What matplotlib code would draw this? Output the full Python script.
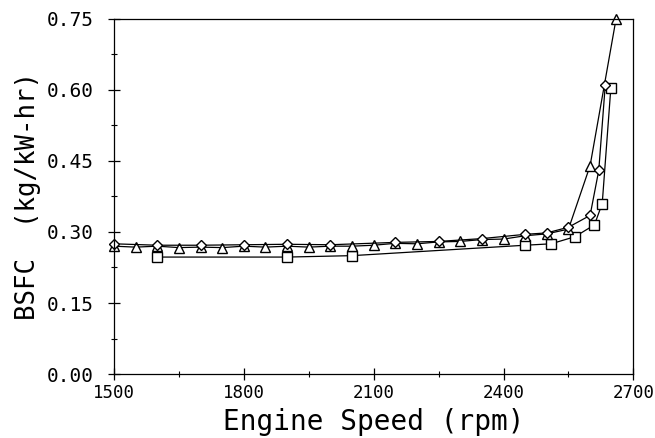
import numpy as np
import matplotlib
matplotlib.use("Agg")
import matplotlib.pyplot as plt
from matplotlib.ticker import MultipleLocator

# engine speed (rpm) and BSFC (kg/kW-hr)
tri_rpm = [1500, 1550, 1600, 1650, 1700, 1750, 1800, 1850, 1900, 1950, 2000, 2050,
           2100, 2150, 2200, 2250, 2300, 2350, 2400, 2450, 2500, 2550, 2600, 2660]
tri_bsfc = [0.270, 0.268, 0.270, 0.267, 0.268, 0.267, 0.270, 0.268, 0.270, 0.268, 0.270, 0.270,
            0.272, 0.276, 0.275, 0.279, 0.280, 0.284, 0.285, 0.292, 0.296, 0.306, 0.440, 0.750]

dia_rpm = [1500, 1600, 1700, 1800, 1900, 2000, 2150, 2250, 2350, 2450, 2500, 2550, 2600, 2620, 2635]
dia_bsfc = [0.275, 0.272, 0.272, 0.273, 0.274, 0.273, 0.278, 0.280, 0.286, 0.295, 0.298, 0.310,
            0.335, 0.430, 0.610]

sq_rpm = [1600, 1900, 2050, 2450, 2510, 2565, 2610, 2628, 2648]
sq_bsfc = [0.247, 0.247, 0.250, 0.272, 0.275, 0.290, 0.315, 0.360, 0.605]

xticks = [1500, 1800, 2100, 2400, 2700]
yticks = [0.00, 0.15, 0.30, 0.45, 0.60, 0.75]

plt.rcParams['font.family'] = ['DejaVu Sans Mono']

fig = plt.figure(figsize=(6.55, 4.38), dpi=100)
ax = fig.add_axes([0.174, 0.146, 0.793, 0.811])

style = dict(color='black', lw=0.9, mfc='white', mec='black', mew=1.0, clip_on=False)
ax.plot(sq_rpm, sq_bsfc, marker='s', ms=7.5, **style)
ax.plot(tri_rpm, tri_bsfc, marker='^', ms=7, **style)
ax.plot(dia_rpm, dia_bsfc, marker='D', ms=5.5, **style)

ax.set_xlim(1500, 2700)
ax.set_ylim(0, 0.75)
ax.set_xticks(xticks)
ax.set_yticks(yticks)
ax.set_yticklabels([f"{v:.2f}" for v in yticks])
ax.xaxis.set_minor_locator(MultipleLocator(150))
ax.yaxis.set_minor_locator(MultipleLocator(0.075))
ax.tick_params(which='major', direction='inout', length=9, width=0.9)
ax.tick_params(axis='y', which='major', pad=10, labelsize=14)
ax.tick_params(axis='x', which='major', pad=3, labelsize=12.5)
ax.tick_params(which='minor', direction='inout', length=5, width=0.8)
for s in ax.spines.values():
    s.set_linewidth(0.9)

ax.set_xlabel("Engine Speed (rpm)", fontsize=20, labelpad=4)
ax.set_ylabel("BSFC  (kg/kW-hr)", fontsize=18.5, labelpad=4)

fig.savefig("out.png", dpi=100)
